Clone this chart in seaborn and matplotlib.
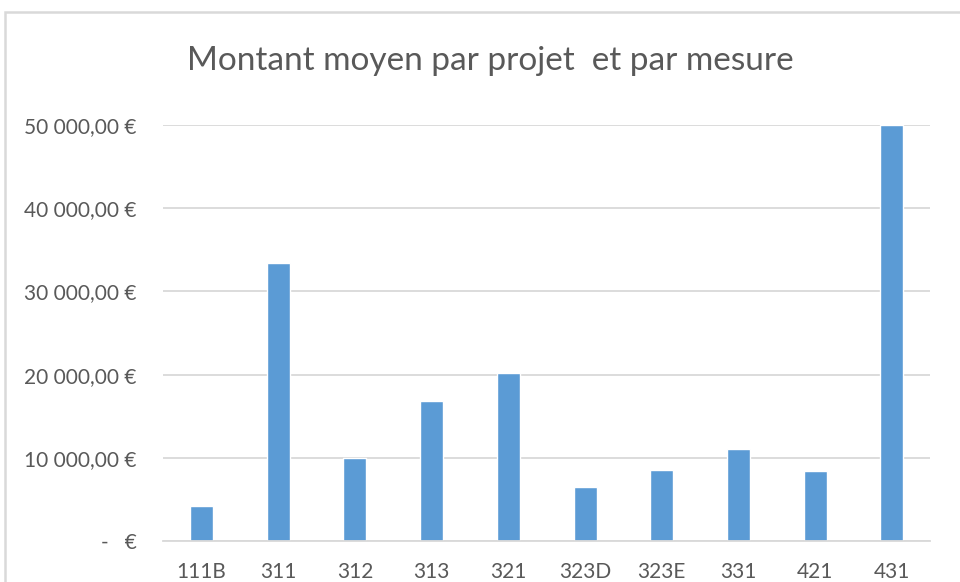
import numpy as np
import pandas as pd
import matplotlib
matplotlib.use('Agg')
import matplotlib.pyplot as plt
from matplotlib.ticker import FuncFormatter
from matplotlib.patches import Rectangle
import seaborn as sns

mesures = ['111B', '311', '312', '313', '321', '323D', '323E', '331', '421', '431']
montants = [4200, 33400, 9950, 16850, 20250, 6500, 8500, 11100, 8400, 50000]
yticks = [0, 10000, 20000, 30000, 40000, 50000]

sns.set_style('white')
plt.rcParams['font.family'] = ['Lato', 'DejaVu Sans']

df = pd.DataFrame({'mesure': mesures, 'montant': montants})

fig = plt.figure(figsize=(9.6, 5.82), dpi=100)
ax = fig.add_axes([0.170, 0.0705, 0.799, 0.7145])

sns.barplot(data=df, x='mesure', y='montant', color='#5B9BD5', width=0.3,
            saturation=1, ax=ax)


def euro(v, pos):
    if v == 0:
        return '-   €'
    s = f'{v:,.2f}'.replace(',', ' ').replace('.', ',')
    return s + ' €'


ax.set_ylim(0, 50000)
ax.set_yticks(yticks)
ax.yaxis.set_major_formatter(FuncFormatter(euro))
ax.yaxis.grid(True, color='#D9D9D9', linewidth=1.3)
ax.set_axisbelow(True)
for side in ['left', 'right', 'top']:
    ax.spines[side].set_visible(False)
ax.spines['bottom'].set_color('#D9D9D9')
ax.spines['bottom'].set_linewidth(1.3)
ax.tick_params(axis='y', length=0, pad=19, labelsize=15, labelcolor='#595959')
ax.tick_params(axis='x', length=0, pad=15, labelsize=15, labelcolor='#595959')
ax.set_xlabel('')
ax.set_ylabel('')

fig.text(0.511, 0.895, 'Montant moyen par projet  et par mesure', ha='center',
         va='center', fontsize=24, color='#595959')

# chart frame (cropped on right and bottom)
fig.patches.append(Rectangle((5 / 960, -0.1), 1.1, 1 - 12 / 582 + 0.1,
                             transform=fig.transFigure, fill=False,
                             edgecolor='#D9D9D9', linewidth=1.8, clip_on=False))

fig.savefig('out.png', dpi=100, facecolor='white')
